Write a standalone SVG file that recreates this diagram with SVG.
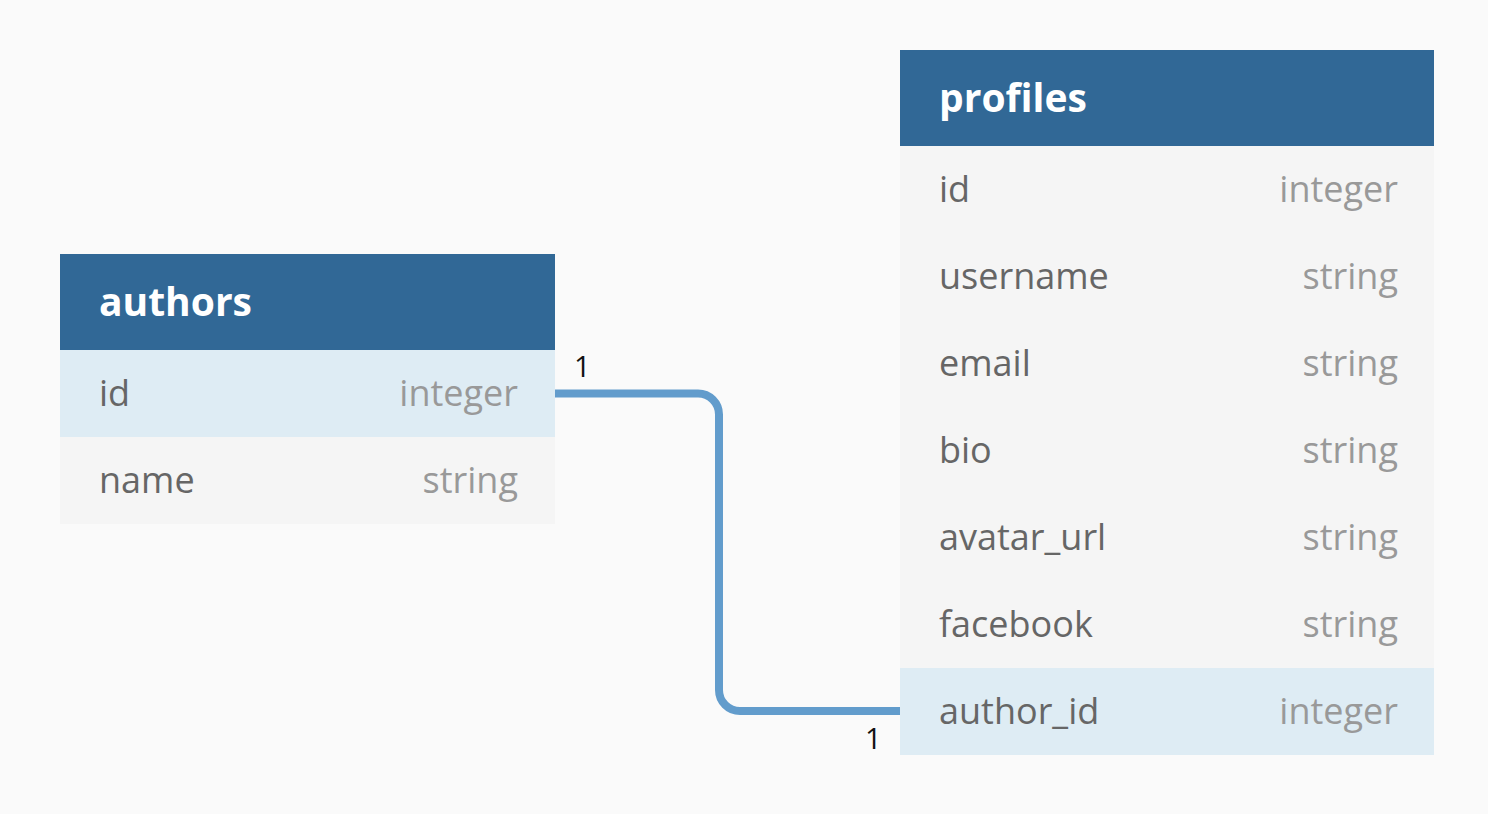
<svg xmlns="http://www.w3.org/2000/svg" width="1488" height="814" viewBox="0 0 1488 814">
<style>
.bg{fill:#fafafa}
.hdr{fill:#316896}
.row{fill:#f5f5f5}
.hl{fill:#deecf4}
.title{font-family:"Open Sans","Noto Sans",sans-serif;font-weight:bold;font-size:39px;fill:#ffffff}
.fname{font-family:"Open Sans","Noto Sans",sans-serif;font-size:36px;fill:#666666}
.ftype{font-family:"Open Sans","Noto Sans",sans-serif;font-size:36px;fill:#999999;text-anchor:end}
.card{font-family:"Open Sans","Noto Sans",sans-serif;font-size:29px;fill:#111111}
.conn{fill:none;stroke:#629ccc;stroke-width:8}
</style>
<rect class="bg" x="0" y="0" width="1488" height="814"/>
<g id="connectors">
<path class="conn" d="M554,393.5 H698 A21,21 0 0 1 719,414.5 V690 A21,21 0 0 0 740,711 H900"/>
<text class="card" x="574" y="377">1</text>
<text class="card" x="865" y="749">1</text>
</g>
<g id="authors">
<rect class="hdr" x="60" y="254" width="495" height="96"/>
<text class="title" x="99" y="315.5">authors</text>
<rect class="hl" x="60" y="350" width="495" height="87"/>
<text class="fname" x="99" y="406">id</text>
<text class="ftype" x="518" y="406">integer</text>
<rect class="row" x="60" y="437" width="495" height="87"/>
<text class="fname" x="99" y="493">name</text>
<text class="ftype" x="518" y="493">string</text>
</g>
<g id="profiles">
<rect class="hdr" x="900" y="50" width="534" height="96"/>
<text class="title" x="939" y="111.5">profiles</text>
<rect class="row" x="900" y="146" width="534" height="522"/>
<text class="fname" x="939" y="202">id</text>
<text class="ftype" x="1398" y="202">integer</text>
<text class="fname" x="939" y="289">username</text>
<text class="ftype" x="1398" y="289">string</text>
<text class="fname" x="939" y="376">email</text>
<text class="ftype" x="1398" y="376">string</text>
<text class="fname" x="939" y="463">bio</text>
<text class="ftype" x="1398" y="463">string</text>
<text class="fname" x="939" y="550">avatar_url</text>
<text class="ftype" x="1398" y="550">string</text>
<text class="fname" x="939" y="637">facebook</text>
<text class="ftype" x="1398" y="637">string</text>
<rect class="hl" x="900" y="668" width="534" height="87"/>
<text class="fname" x="939" y="724">author_id</text>
<text class="ftype" x="1398" y="724">integer</text>
</g>
</svg>
